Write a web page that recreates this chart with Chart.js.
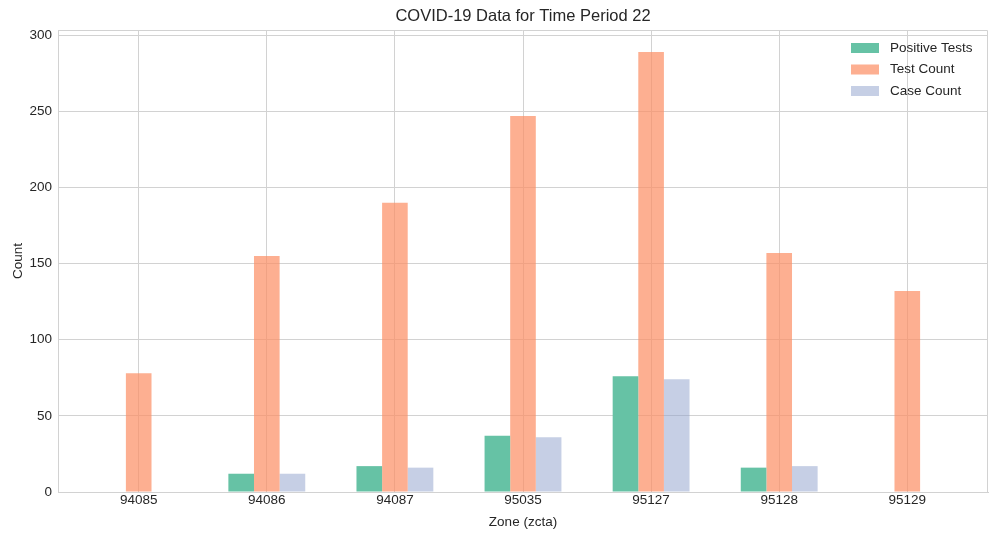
<!DOCTYPE html>
<html>
<head>
<meta charset="utf-8">
<script src="https://cdn.jsdelivr.net/npm/chart.js@4/dist/chart.umd.min.js"></script>
<style>
  html, body { margin: 0; padding: 0; background: #fff; }
  #wrap { width: 997px; height: 540px; }
</style>
</head>
<body>
<div id="wrap"><canvas id="covidChart"></canvas></div>
<script>
// Data
const zones = ['94085', '94086', '94087', '95035', '95127', '95128', '95129'];
const positiveTests = [0, 12, 17, 37, 76, 16, 0];
const testCount = [78, 155, 190, 247, 289, 157, 132];
const caseCount = [0, 12, 16, 36, 74, 17, 0];
const yTicks = [0, 50, 100, 150, 200, 250, 300];

const seriesNames = ['Positive Tests', 'Test Count', 'Case Count'];
const seriesColors = ['rgba(102, 194, 165, 1)', 'rgba(252, 141, 98, 0.7)', 'rgba(141, 160, 203, 0.5)'];
const chartTitle = 'COVID-19 Data for Time Period 22';
const textColor = '#262626';
const gridColor = '#d2d2d2';
const fontFamily = '"Liberation Sans", Arial, sans-serif';
const baseSize = 13.5;

function toPoints(values) {
    return values.map((v, i) => ({ x: i, y: v }));
}

const datasets = [positiveTests, testCount, caseCount].map((vals, i) => ({
    label: seriesNames[i],
    data: toPoints(vals),
    backgroundColor: seriesColors[i],
    borderWidth: 0,
    categoryPercentage: 0.6,
    barPercentage: 1.0
}));

// title centred over the plot area, legend inside top right (no frame)
const annotations = {
    id: 'annotations',
    afterDraw(chart) {
        const ctx = chart.ctx;
        const area = chart.chartArea;
        ctx.save();
        ctx.fillStyle = textColor;
        ctx.font = '16.5px ' + fontFamily;
        ctx.textAlign = 'center';
        ctx.textBaseline = 'middle';
        ctx.fillText(chartTitle, (area.left + area.right) / 2, 16);

        ctx.font = baseSize + 'px ' + fontFamily;
        ctx.textAlign = 'left';
        seriesNames.forEach((name, i) => {
            const cy = area.top + 18 + i * 21.5;
            ctx.fillStyle = seriesColors[i];
            ctx.fillRect(area.right - 137, cy - 5, 28, 10);
            ctx.fillStyle = textColor;
            ctx.fillText(name, area.right - 98, cy);
        });
        ctx.restore();
    }
};

// top and right spines
const frame = {
    id: 'frame',
    beforeDatasetsDraw(chart) {
        const ctx = chart.ctx;
        const a = chart.chartArea;
        ctx.save();
        ctx.strokeStyle = gridColor;
        ctx.lineWidth = 1;
        ctx.beginPath();
        ctx.moveTo(a.left, a.top + 0.5);
        ctx.lineTo(a.right - 0.5, a.top + 0.5);
        ctx.lineTo(a.right - 0.5, a.bottom);
        ctx.stroke();
        ctx.restore();
    }
};

const chartConfig = {
    type: 'bar',
    data: { datasets: datasets },
    plugins: [annotations, frame],
    options: {
        responsive: true,
        maintainAspectRatio: false,
        animation: false,
        layout: { padding: { top: 30, right: 9, left: 0, bottom: 0 } },
        plugins: {
            legend: { display: false },
            tooltip: { enabled: false },
            title: { display: false }
        },
        scales: {
            x: {
                type: 'linear',
                offset: false,
                min: -0.63,
                max: 6.63,
                afterBuildTicks(scale) {
                    scale.ticks = zones.map((z, i) => ({ value: i }));
                },
                afterFit(scale) { scale.height = 48; },
                ticks: {
                    color: textColor,
                    font: { family: fontFamily, size: baseSize },
                    padding: 0,
                    callback: (v) => zones[v]
                },
                grid: { color: gridColor, drawTicks: false, offset: false },
                border: { color: gridColor },
                title: {
                    display: true,
                    text: 'Zone (zcta)',
                    color: textColor,
                    font: { family: fontFamily, size: baseSize },
                    padding: { top: 4, bottom: 10 }
                }
            },
            y: {
                min: 0,
                max: 303.5,
                afterBuildTicks(scale) {
                    scale.ticks = yTicks.map(v => ({ value: v }));
                },
                afterFit(scale) { scale.width = 58; },
                ticks: {
                    color: textColor,
                    font: { family: fontFamily, size: baseSize },
                    padding: 6
                },
                grid: { color: gridColor, drawTicks: false },
                border: { color: gridColor },
                title: {
                    display: true,
                    text: 'Count',
                    color: textColor,
                    font: { family: fontFamily, size: baseSize },
                    padding: { top: 10, bottom: 0 }
                }
            }
        }
    }
};

const ctx = document.getElementById('covidChart');
const covidChart = new Chart(ctx, chartConfig);
</script>
</body>
</html>
